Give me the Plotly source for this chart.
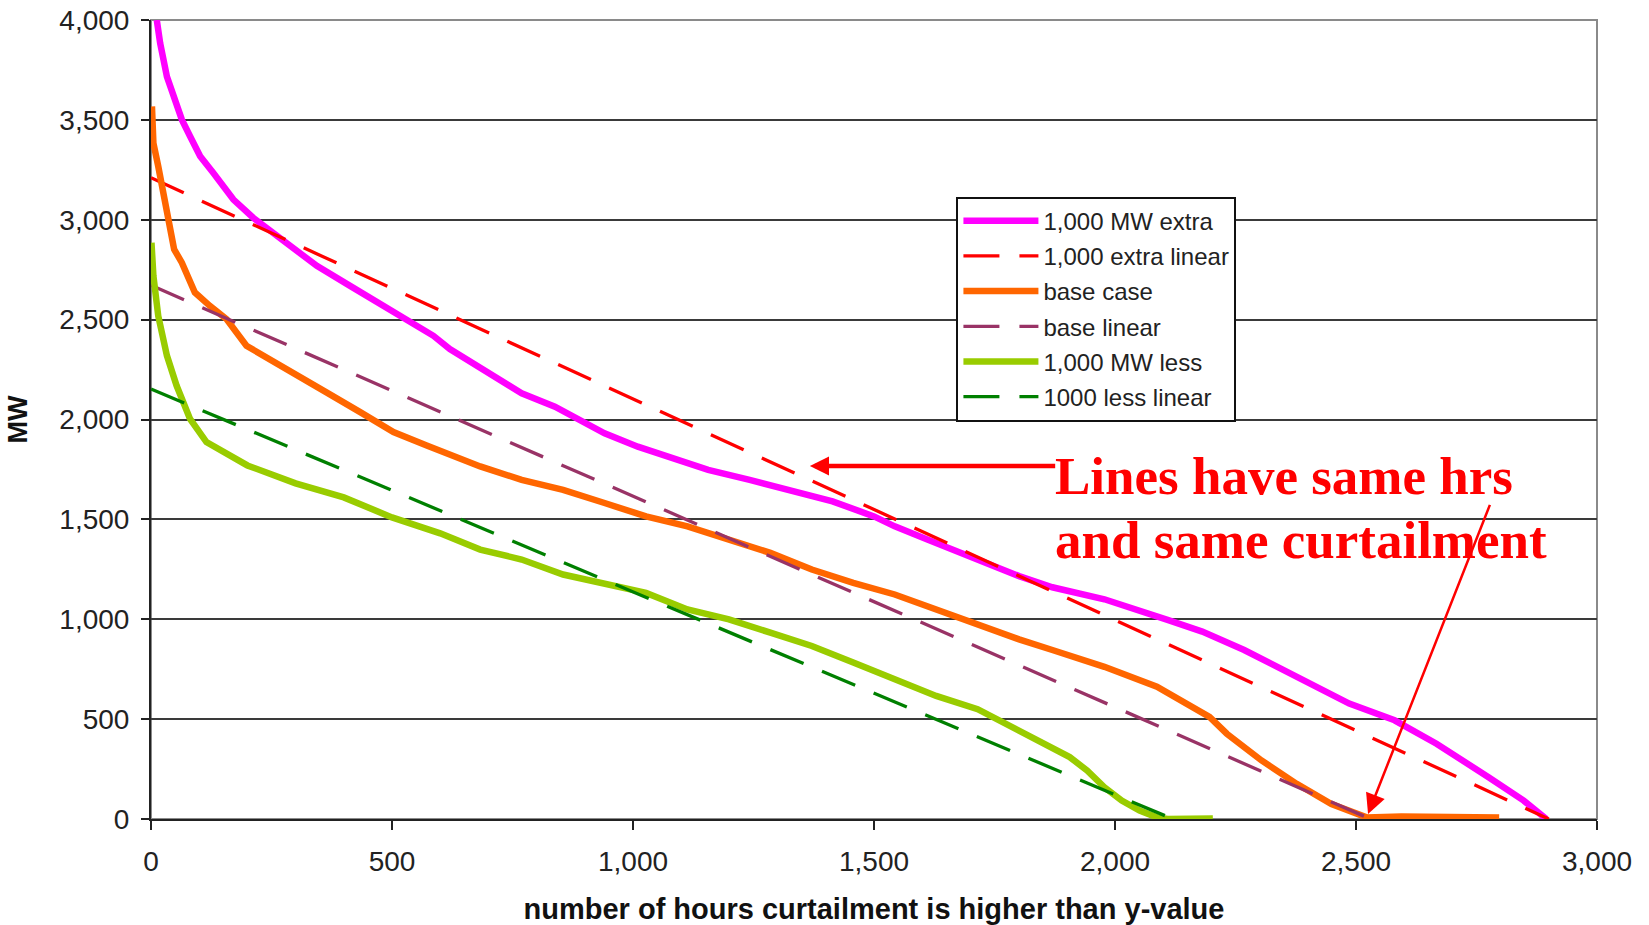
import plotly.graph_objects as go

# ---- data ----
extra_hours = [12, 19, 33, 50, 64, 81, 102, 129, 171, 212, 281, 344, 413, 517, 586, 620, 690, 724,
               769, 838, 889, 941, 1010, 1070, 1156, 1242, 1328, 1414, 1500, 1543, 1612, 1715, 1801,
               1870, 1978, 2109, 2181, 2268, 2377, 2486, 2580, 2667, 2775, 2848, 2895]
extra_mw = [4000, 3884, 3717, 3601, 3501, 3418, 3318, 3235, 3101, 3010, 2885, 2769, 2669, 2519, 2419,
            2353, 2253, 2203, 2131, 2064, 1998, 1931, 1864, 1814, 1748, 1698, 1648, 1590, 1515, 1465,
            1398, 1299, 1216, 1160, 1100, 997, 938, 846, 712, 578, 494, 377, 209, 92, 0]

extra_lin_hours = [0, 2900]
extra_lin_mw = [3210, 0]

base_hours = [2, 5, 15, 26, 36, 48, 64, 77, 91, 122, 157, 198, 247, 302, 364, 434, 503, 572, 683, 769,
              855, 941, 1027, 1113, 1199, 1285, 1371, 1457, 1543, 1629, 1715, 1801, 1870, 1978, 2087,
              2174, 2196, 2232, 2304, 2377, 2449, 2522, 2594, 2797]
base_mw = [3567, 3384, 3268, 3135, 3002, 2852, 2785, 2719, 2636, 2569, 2502, 2369, 2303, 2220, 2136,
           2037, 1937, 1870, 1765, 1698, 1648, 1582, 1515, 1465, 1398, 1332, 1249, 1182, 1124, 1049,
           966, 899, 846, 762, 662, 544, 511, 427, 293, 176, 75, 8, 12, 8]

base_lin_hours = [0, 2530]
base_lin_mw = [2672, 0]

less_hours = [1, 5, 15, 33, 53, 81, 115, 200, 300, 400, 500, 600, 683, 769, 855, 941, 1027, 1113, 1199,
              1285, 1371, 1457, 1543, 1629, 1715, 1800, 1870, 1906, 1942, 1978, 2014, 2051, 2087, 2109,
              2203]
less_mw = [2885, 2719, 2519, 2320, 2170, 2003, 1887, 1770, 1680, 1610, 1510, 1430, 1349, 1299, 1224,
           1182, 1132, 1049, 999, 933, 866, 783, 700, 616, 550, 440, 352, 310, 243, 159, 92, 42, 8, 0, 3]

less_lin_hours = [0, 2120]
less_lin_mw = [2153, 0]

series_names = ["1,000 MW extra", "1,000 extra linear", "base case", "base linear",
                "1,000 MW less", "1000 less linear"]

x_ticks = [0, 500, 1000, 1500, 2000, 2500, 3000]
y_ticks = [0, 500, 1000, 1500, 2000, 2500, 3000, 3500, 4000]

note_line1 = "Lines have same hrs"
note_line2 = "and same curtailment"

# ---- figure ----
fig = go.Figure()
solid_w = 6.5
dash_w = 3.3
dash_pat = "36px,20px"

traces = [
    (extra_hours, extra_mw, series_names[0], "#FF00FF", solid_w, "solid"),
    (extra_lin_hours, extra_lin_mw, series_names[1], "#FF0000", dash_w, dash_pat),
    (base_hours, base_mw, series_names[2], "#FF6600", solid_w, "solid"),
    (base_lin_hours, base_lin_mw, series_names[3], "#993366", dash_w, dash_pat),
    (less_hours, less_mw, series_names[4], "#99CC00", solid_w, "solid"),
    (less_lin_hours, less_lin_mw, series_names[5], "#008000", dash_w, dash_pat),
]
for i, (xs, ys, name, col, w, dash) in enumerate(traces):
    fig.add_trace(go.Scatter(x=xs, y=ys, name=name, mode="lines", legendgroup=f"g{i}",
                             line=dict(color=col, width=w, dash=dash)))

font_main = "Liberation Sans, Arial, sans-serif"

fig.update_layout(
    width=1649, height=925,
    margin=dict(l=151, r=52, t=20, b=106, autoexpand=False),
    paper_bgcolor="white", plot_bgcolor="white",
    font=dict(family=font_main, size=28, color="#222222"),
    showlegend=True,
    legend=dict(x=0.557, y=0.779, xanchor="left", yanchor="top",
                bgcolor="white", bordercolor="#111111", borderwidth=2,
                font=dict(family=font_main, size=24, color="#222222"),
                itemwidth=75, tracegroupgap=1),
    xaxis=dict(range=[0, 3000], tickvals=x_ticks, tickformat=",", showgrid=False, zeroline=False,
               showline=True, linecolor="#222222", linewidth=2, automargin=False,
               ticks="outside", ticklen=9, tickwidth=2, tickcolor="#222222",
               ticklabelstandoff=7,
               title=dict(text="<b>number of hours curtailment is higher than y-value</b>",
                          font=dict(family=font_main, size=29, color="#111111"), standoff=25)),
    yaxis=dict(range=[0, 4000], tickvals=y_ticks, tickformat=",", showgrid=True,
               gridcolor="#3a3a3a", gridwidth=2, zeroline=False, automargin=False,
               showline=True, linecolor="#222222", linewidth=2,
               ticks="outside", ticklen=8, tickwidth=2, tickcolor="#222222",
               ticklabelstandoff=6,
               title=dict(text="<b>MW</b>", font=dict(family=font_main, size=27, color="#111111"),
                          standoff=24)),
)

# plot-area border (gray, right/top)
fig.add_shape(type="rect", xref="paper", yref="paper", x0=0, y0=0, x1=1, y1=1,
              line=dict(color="#8a8a8a", width=2), layer="below")

# arrows
fig.add_annotation(x=1367, y=1767, ax=1879, ay=1767, xref="x", yref="y", axref="x", ayref="y",
                   text="", showarrow=True, arrowhead=2, arrowsize=0.85, arrowwidth=4.5,
                   arrowcolor="#FF0000", standoff=0, startstandoff=0)
fig.add_annotation(x=2525, y=25, ax=2779, ay=1580, xref="x", yref="y", axref="x", ayref="y",
                   text="", showarrow=True, arrowhead=2, arrowsize=1.6, arrowwidth=2.5,
                   arrowcolor="#FF0000", standoff=0, startstandoff=0)

# note text
serif = "Liberation Serif, Times New Roman, serif"
fig.add_annotation(x=1872, y=1718, xref="x", yref="y", text=f"<b>{note_line1}</b>", showarrow=False,
                   xanchor="left", yanchor="middle", font=dict(family=serif, size=53, color="#FF0000"))
fig.add_annotation(x=1872, y=1398, xref="x", yref="y", text=f"<b>{note_line2}</b>", showarrow=False,
                   xanchor="left", yanchor="middle", font=dict(family=serif, size=53, color="#FF0000"))

fig.write_html("out.html", config={"displayModeBar": False},
               post_script="document.body.style.margin='0';document.body.style.overflow='hidden';")
